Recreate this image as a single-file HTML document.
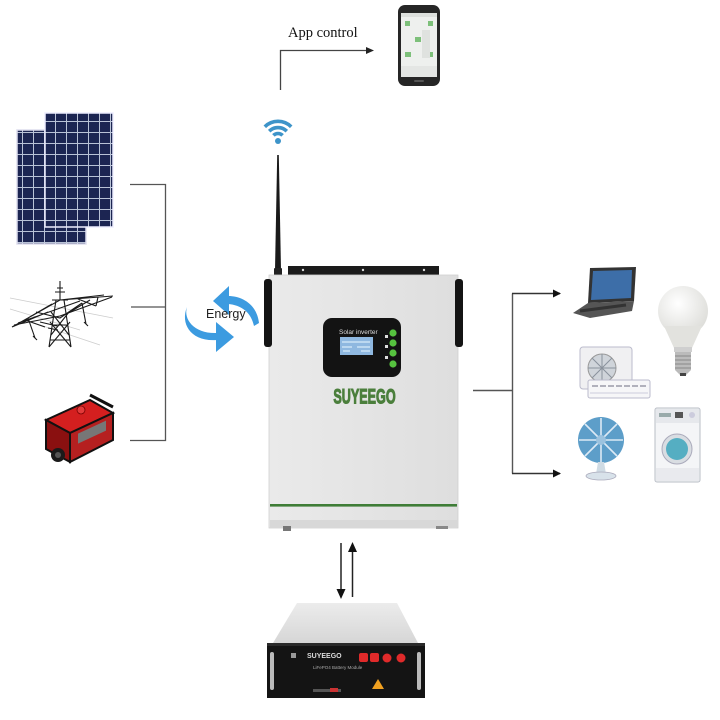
<!DOCTYPE html>
<html><head><meta charset="utf-8"><style>
html,body{margin:0;padding:0;background:#fff;width:720px;height:720px;overflow:hidden}
svg{display:block}
</style></head><body>
<svg width="720" height="720" viewBox="0 0 720 720" xmlns="http://www.w3.org/2000/svg">
<defs>
<pattern id="cells" x="0" y="0" width="11" height="11" patternUnits="userSpaceOnUse">
<rect width="11" height="11" fill="#1c2552"/>
<path d="M0 0.5H11M0.5 0V11" stroke="#b9c2d6" stroke-width="1"/>
</pattern>
<linearGradient id="body" x1="0" x2="1" y1="0" y2="0">
<stop offset="0" stop-color="#eaeaea"/><stop offset="1" stop-color="#dedede"/>
</linearGradient>
<linearGradient id="lid" x1="0" x2="0" y1="0" y2="1">
<stop offset="0" stop-color="#ececec"/><stop offset="1" stop-color="#d6d6d6"/>
</linearGradient>
<radialGradient id="bulb" cx="0.4" cy="0.35" r="0.7">
<stop offset="0" stop-color="#ffffff"/><stop offset="1" stop-color="#dcdcd8"/>
</radialGradient>
<marker id="ah" markerWidth="8" markerHeight="8" refX="7" refY="4" orient="auto" markerUnits="userSpaceOnUse">
<path d="M0 0L8 4L0 8Z" fill="#111"/>
</marker>
</defs>

<!-- App control connector -->
<path d="M280.5 90V50.5H366" stroke="#444" stroke-width="1.3" fill="none"/>
<path d="M366 47L374 50.5L366 54Z" fill="#222"/>
<text x="288" y="37" font-family="Liberation Serif, serif" font-size="14.5" fill="#111">App control</text>

<!-- phone -->
<rect x="398" y="5" width="42" height="81" rx="7" fill="#262626"/>
<rect x="401" y="13" width="36" height="64" fill="#eef0ee"/>
<rect x="401" y="13" width="36" height="4" fill="#dde0dd"/>
<rect x="405" y="21" width="5" height="5" fill="#7dc07a"/>
<rect x="428" y="21" width="5" height="5" fill="#7dc07a"/>
<rect x="415" y="37" width="6" height="5" fill="#7dc07a"/>
<rect x="405" y="52" width="6" height="5" fill="#7dc07a"/>
<rect x="428" y="52" width="5" height="5" fill="#7dc07a"/>
<rect x="422" y="30" width="8" height="28" fill="#dfe2df"/>
<rect x="401" y="66" width="36" height="11" fill="#e4e6e4"/>
<rect x="414" y="80" width="10" height="2" rx="1" fill="#555"/>

<!-- wifi -->
<g fill="none" stroke="#3d94c9" stroke-width="3.6" stroke-linecap="butt">
<path d="M273.4 135.4A6.5 6.5 0 0 1 282.6 135.4"/>
<path d="M269.2 131.2A12.5 12.5 0 0 1 286.8 131.2"/>
<path d="M264.8 126.8A18.7 18.7 0 0 1 291.2 126.8"/>
</g>
<circle cx="278" cy="141" r="3" fill="#3d94c9"/>

<!-- antenna -->
<path d="M277.2 155L278.8 155L281 270L275 270Z" fill="#1a1a1a"/>
<rect x="274" y="268" width="8" height="12" rx="1" fill="#222"/>
<rect x="273" y="278" width="10" height="5" fill="#111"/>

<!-- Inverter -->
<rect x="288" y="266" width="151" height="10" fill="#1b1b1b"/>
<circle cx="303" cy="270" r="1.2" fill="#ddd"/><circle cx="363" cy="270" r="1.2" fill="#ddd"/><circle cx="424" cy="270" r="1.2" fill="#ddd"/>
<rect x="269" y="275" width="189" height="253" fill="url(#body)" stroke="#d0d0d0" stroke-width="0.8"/>
<rect x="264" y="279" width="8" height="68" rx="3" fill="#141414"/>
<rect x="455" y="279" width="8" height="68" rx="3" fill="#141414"/>
<rect x="270" y="504" width="187" height="2.6" fill="#3f7d37"/>
<rect x="270" y="520" width="187" height="8" fill="#d8d8d8"/>
<rect x="283" y="526" width="8" height="5" fill="#777"/>
<rect x="436" y="526" width="12" height="3" fill="#888"/>
<!-- display -->
<rect x="323" y="318" width="78" height="59" rx="9" fill="#131313"/>
<text x="339" y="334" font-family="Liberation Sans, sans-serif" font-size="6.5" fill="#ddd">Solar inverter</text>
<rect x="340" y="337" width="33" height="18" fill="#8fb8e0"/>
<path d="M342 342H370M342 347H352M357 347H370M343 351H350M361 351H370" stroke="#d8ecfa" stroke-width="1.2"/>
<g fill="#56c23f"><circle cx="393" cy="333" r="3.6"/><circle cx="393" cy="343" r="3.6"/><circle cx="393" cy="353" r="3.6"/><circle cx="393" cy="364" r="3.6"/></g>
<g fill="#ddd"><rect x="385" y="335" width="3" height="3"/><rect x="385" y="345" width="3" height="3"/><rect x="385" y="356" width="3" height="3"/></g>
<text x="364.5" y="403.5" text-anchor="middle" font-family="Liberation Sans, sans-serif" font-weight="bold" font-size="21" fill="#4b7f3c" stroke="#4b7f3c" stroke-width="1.1" transform="translate(364.5 0) scale(0.6 1) translate(-364.5 0)">SUYEEGO</text>

<!-- Energy arrows -->
<path d="M228 296C243 296 257 305 259 323L254 326C251 312 241 305 228 304Z" fill="#3c9be0"/>
<path d="M229 286L213 301L229 315Z" fill="#3c9be0"/>
<path d="M187 307C183 320 195 334 217 333L217 340C191 342 180 324 187 307Z" fill="#3c9be0"/>
<path d="M216 322L234 337L216 352Z" fill="#3c9be0"/>
<text x="206" y="318" font-family="Liberation Sans, sans-serif" font-size="12.5" fill="#222">Energy</text>

<!-- Left bracket -->
<path d="M130 184.5H165.5V440.5H130M131 307H165" stroke="#555" stroke-width="1.3" fill="none"/>

<!-- Solar panels -->
<rect x="17" y="130" width="69" height="114" fill="url(#cells)" stroke="#dde" stroke-width="1.5"/>
<rect x="45" y="113" width="68" height="114" fill="url(#cells)" stroke="#eef" stroke-width="1.5"/>

<!-- Pylon -->
<g stroke="#ccc" stroke-width="0.7"><path d="M10 298L113 318M10 309L80 330M40 325L100 345"/></g>
<g stroke="#1a1a1a" stroke-width="1.1" fill="none">
<path d="M60 281V300M56 300L49 347M64 300L71 347M49 347L70 322M71 347L50 322M51 335L69 312M69 335L51 312M52 325L68 325M50 340H70"/>
<path d="M12 327L60 300L113 296M12 327L48 312M18 323L80 301M60 300L104 295M28 318L52 304M78 299L96 306M14 325L60 316L112 297"/>
<path d="M28 318L35 338M82 303L86 324M98 297L96 306M36 312L60 318L82 303M40 322L57 326M25 320L45 327M70 312L90 300"/>
<path d="M55 292L65 292M52 300L68 300M57 288H63"/>
<path d="M33 336L37 340M84 322L88 326M48 328L58 330"/>
</g>

<!-- Generator -->
<path d="M46 420L90 400L113 413L70 433Z" fill="#d41f1f" stroke="#111" stroke-width="2"/>
<path d="M46 420L70 433L70 462L46 449Z" fill="#8a1010" stroke="#111" stroke-width="2"/>
<path d="M70 433L113 413L113 440L70 462Z" fill="#b52020" stroke="#111" stroke-width="2"/>
<rect x="78" y="430" width="28" height="10" fill="#777" transform="skewY(-25) translate(0 40)"/>
<circle cx="81" cy="410" r="4" fill="#e23a3a" stroke="#700" stroke-width="0.8"/>
<circle cx="58" cy="455" r="7" fill="#1a1a1a"/>
<circle cx="58" cy="455" r="3" fill="#555"/>
<path d="M90 395L113 407" stroke="#111" stroke-width="3" fill="none"/>

<!-- Right connectors -->
<path d="M473 390.5H512.5M512.5 293.5V473.5" stroke="#555" stroke-width="1.4" fill="none"/>
<path d="M512 293.5H560" stroke="#333" stroke-width="1.4" marker-end="url(#ah)"/>
<path d="M512 473.5H560" stroke="#333" stroke-width="1.4" marker-end="url(#ah)"/>

<!-- Laptop -->
<path d="M590 268L636 267L634 301L588 303Z" fill="#333"/>
<path d="M593 271L632 270L631 298L591 300Z" fill="#3d6ea8"/>
<path d="M588 303L634 301L632 311L590 318L573 313Z" fill="#555"/>
<path d="M580 311L626 305" stroke="#333" stroke-width="3"/>

<!-- Bulb -->
<circle cx="683" cy="311" r="25" fill="url(#bulb)"/>
<path d="M664 326L702 326L692 348L674 348Z" fill="#e2e2de"/>
<rect x="674" y="347" width="18" height="5" fill="#cfcfcf"/>
<path d="M675 352H691V370L686 375H680L675 370Z" fill="#bbb"/>
<path d="M675 356H691M675 360H691M675 364H691M675 368H691" stroke="#888" stroke-width="1"/>
<rect x="680" y="373" width="6" height="3" fill="#444"/>

<!-- AC unit -->
<rect x="580" y="347" width="52" height="42" rx="3" fill="#f0f0f2" stroke="#bbc" stroke-width="1"/>
<circle cx="602" cy="368" r="14" fill="#cfd4da" stroke="#999" stroke-width="1"/>
<path d="M602 354V382M588 368H616M592 358L612 378M612 358L592 378" stroke="#8a929c" stroke-width="1"/>
<rect x="588" y="380" width="62" height="18" rx="2" fill="#f6f6f8" stroke="#bbc" stroke-width="1"/>
<path d="M592 386H646" stroke="#889" stroke-width="1.2" stroke-dasharray="6 2"/>
<path d="M590 393H648" stroke="#ccd" stroke-width="1"/>

<!-- Fan -->
<circle cx="601" cy="440" r="23" fill="#5d9ec9"/>
<g stroke="#dceaf5" stroke-width="1.6"><path d="M601 418V462M579 440H623M585 424L617 456M617 424L585 456"/></g>
<circle cx="601" cy="440" r="5" fill="#9cc3df"/>
<path d="M598 462H604L606 474H596Z" fill="#cfdbe4"/>
<ellipse cx="601" cy="476" rx="15" ry="4" fill="#d8e2ea" stroke="#aab" stroke-width="0.8"/>

<!-- Washing machine -->
<rect x="655" y="408" width="45" height="74" rx="2" fill="#f4f5f7" stroke="#b9bec6" stroke-width="1"/>
<rect x="656" y="409" width="43" height="14" fill="#e6e8ec"/>
<rect x="659" y="413" width="12" height="4" fill="#9aa"/>
<rect x="675" y="412" width="8" height="6" fill="#555"/>
<circle cx="692" cy="415" r="3" fill="#ccd"/>
<circle cx="677" cy="449" r="15" fill="#d9dde2" stroke="#aab" stroke-width="1"/>
<circle cx="677" cy="449" r="11" fill="#55aec2"/>
<rect x="656" y="468" width="43" height="13" fill="#e9eaee"/>

<!-- Battery arrows -->
<path d="M341 543V592" stroke="#222" stroke-width="1.5"/>
<path d="M336.5 589L341 599L345.5 589Z" fill="#111"/>
<path d="M352.5 597V549" stroke="#222" stroke-width="1.5"/>
<path d="M348 552L352.5 542L357 552Z" fill="#111"/>

<!-- Battery -->
<path d="M297 603L397 603L418 643L273 643Z" fill="url(#lid)"/>
<rect x="267" y="643" width="158" height="55" fill="#141414"/>
<rect x="267" y="643" width="158" height="3" fill="#2a2a2a"/>
<rect x="270" y="652" width="4" height="38" rx="2" fill="#bbb"/>
<rect x="417" y="652" width="4" height="38" rx="2" fill="#bbb"/>
<text x="307" y="658" font-family="Liberation Sans, sans-serif" font-weight="bold" font-size="7" fill="#ddd">SUYEEGO</text>
<text x="313" y="669" font-family="Liberation Sans, sans-serif" font-size="4.5" fill="#aaa">LiFePO4 Battery Module</text>
<rect x="291" y="653" width="5" height="5" fill="#999"/>
<g fill="#e02a2a"><rect x="359" y="653" width="9" height="9" rx="2"/><rect x="370" y="653" width="9" height="9" rx="2"/><circle cx="387" cy="658" r="4.5"/><circle cx="401" cy="658" r="4.5"/></g>
<path d="M378 679L384 689H372Z" fill="#f0a020"/>
<rect x="313" y="689" width="28" height="3" fill="#555"/>
<rect x="330" y="688" width="8" height="4" fill="#c33"/>
</svg>
</body></html>
